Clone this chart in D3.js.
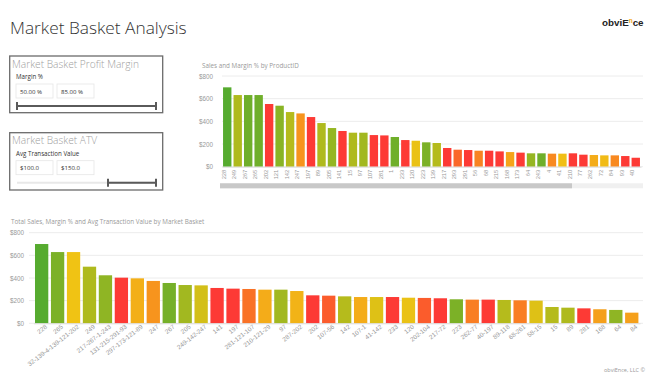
<!DOCTYPE html>
<html><head><meta charset="utf-8">
<script src="https://cdn.jsdelivr.net/npm/d3@7"></script>
<style>
html,body{margin:0;padding:0;background:#fff;}
svg{display:block;font-family:'Segoe UI','Open Sans','Noto Sans',sans-serif;}
</style></head>
<body><svg id="c" width="656" height="378"></svg>
<script>
// ---- data ----
const productIDs = ["228","249","267","265","202","121","142","247","197","89","205","141","15","97","107","281","1","233","120","223","139","217","293","291","56","68","215","168","173","64","243","4","41","210","77","262","72","84","93","40"];
const productSales = [700,632,632,632,553,538,482,470,438,385,341,315,300,300,279,276,262,235,229,215,209,165,150,147,141,141,135,129,124,118,118,115,115,118,106,103,100,100,94,79];
const productMargin = [82,68,78,78,48,74,67,56,48,68,72,48,68,70,48,48,78,48,62.5,76,67,48,52,48,54.5,48,48,58,48,72,78,55,61.5,48,48,59,61,55,48,48];

const basketLabels = ["228","265","32-139-4-139-121-202","249","217-267-1-243","131-215-291-93","297-173-121-89","247","267","205","249-142-247","141","197","281-121-107","210-121-29","97","287-202","202","107-56","142","107-1","41-142","233","120","202-104","217-72","223","262-77","40-197","89-118","68-261","58-15","15","89","281","168","64","84"];
const basketSales = [700,629,629,500,424,403,397,374,356,338,335,312,306,303,297,297,285,247,244,238,232,232,232,226,224,221,212,209,209,206,203,200,144,138,132,124,118,94];
const basketMargin = [82,76,62,68,73,48,59.5,56,77,70,64.5,48,48,53,59,70,60,48,51,67,59,63.5,48,62.5,51,48,76,54,48,67,54,63.5,67,68,48,57.5,73,57.5];

const salesTicks = [0,200,400,600,800];
const marginFilter = ["50.00 %","85.00 %"];
const atvFilter = ["$100.0","$150.0"];

// ---- drawing ----
const svg = d3.select("#c");
const color = d3.scaleLinear()
  .domain([48,56,62,67,82])
  .range(["#fd3a35","#f7941d","#f0c314","#b5bb1c","#56ab2f"])
  .interpolate(d3.interpolateRgb).clamp(true);
const fmt = d => "$" + d;

// Title
svg.append("text").attr("x",10).attr("y",33.5).attr("font-size",17.3).attr("font-weight",300)
  .attr("fill","#333").text("Market Basket Analysis");

// Logo
const logo = svg.append("text").attr("x",602).attr("y",26).attr("font-size",9.8).attr("font-weight",700)
  .attr("fill","#222").attr("font-family","Arial, 'Liberation Sans', sans-serif");
logo.append("tspan").text("obviE");
logo.append("tspan").attr("fill","#f3a81c").attr("font-size",6.5).attr("dy",-3.5).text("n");
logo.append("tspan").attr("dy",3.5).text("ce");

// Footer
svg.append("text").attr("x",645).attr("y",372).attr("text-anchor","end").attr("font-size",5.5)
  .attr("fill","#999").text("obviEnce, LLC ©");

// Slicer panels
function panel(y0, h, title, sub, vals, selStart){
  const g = svg.append("g");
  g.append("rect").attr("x",9.7).attr("y",y0).attr("width",153).attr("height",h)
    .attr("fill","#fff").attr("stroke","#6b6b6b").attr("stroke-width",1.3);
  g.append("text").attr("x",12).attr("y",y0+11.5).attr("font-size",10.2).attr("font-weight",300)
    .attr("fill","#a0a0a0").text(title);
  g.append("text").attr("x",16).attr("y",y0+23).attr("font-size",6.2).attr("fill","#333").text(sub);
  vals.forEach((v,i)=>{
    const bx = 16 + i*41;
    g.append("rect").attr("x",bx).attr("y",y0+28).attr("width",37).attr("height",14)
      .attr("fill","#fff").attr("stroke","#e6e6e6").attr("stroke-width",0.8);
    g.append("text").attr("x",bx+4).attr("y",y0+37.5).attr("font-size",6.1).attr("fill","#333").text(v);
  });
  const ty = y0+50;
  g.append("line").attr("x1",17).attr("x2",156).attr("y1",ty).attr("y2",ty)
    .attr("stroke","#e8e8e8").attr("stroke-width",2);
  g.append("line").attr("x1",selStart).attr("x2",156).attr("y1",ty).attr("y2",ty)
    .attr("stroke","#5a5a5a").attr("stroke-width",2);
  [selStart,156].forEach(x=>{
    g.append("line").attr("x1",x).attr("x2",x).attr("y1",ty-4).attr("y2",ty+4)
      .attr("stroke","#5a5a5a").attr("stroke-width",2);
  });
}
panel(56, 56.7, "Market Basket Profit Margin", "Margin %", marginFilter, 17);
panel(132.7, 57.3, "Market Basket ATV", "Avg Transaction Value", atvFilter, 108);

// ---- Top chart ----
{
  const x0 = 222, x1 = 641, yTop = 76, yBase = 166.7;
  svg.append("text").attr("x",202).attr("y",68).attr("font-size",6.3).attr("fill","#9a9a9a")
    .text("Sales and Margin % by ProductID");
  const x = d3.scaleBand().domain(productIDs).range([x0,x1]).paddingInner(0.2).paddingOuter(0.1);
  const y = d3.scaleLinear().domain([0,800]).range([yBase,yTop]);
  const g = svg.append("g");
  g.selectAll("line.grid").data(salesTicks).join("line")
    .attr("x1",x0).attr("x2",x1+2).attr("y1",d=>y(d)).attr("y2",d=>y(d))
    .attr("stroke","#ececec").attr("stroke-width",1);
  const ya = g.append("g").attr("transform",`translate(${x0-6},0)`)
    .call(d3.axisLeft(y).tickValues(salesTicks).tickFormat(fmt).tickSize(0));
  ya.select(".domain").remove();
  ya.selectAll("text").attr("font-size",6.3).attr("fill","#999").attr("font-family",null);
  g.selectAll("rect.bar").data(productIDs).join("rect")
    .attr("x",d=>x(d)).attr("width",x.bandwidth())
    .attr("y",(d,i)=>y(productSales[i])).attr("height",(d,i)=>yBase-y(productSales[i]))
    .attr("fill",(d,i)=>color(productMargin[i]));
  const xa = g.append("g").attr("transform",`translate(0,${yBase})`)
    .call(d3.axisBottom(x).tickSize(0));
  xa.select(".domain").attr("stroke","#ddd");
  xa.selectAll("text").attr("font-size",5.8).attr("fill","#999").attr("font-family",null)
    .attr("transform","rotate(-90)").attr("text-anchor","end").attr("dx","-3").attr("dy","-0.33em")
    .attr("x",0).attr("y",0.5);
  // scrollbar
  g.append("rect").attr("x",220).attr("y",183.3).attr("width",423).attr("height",5).attr("fill","#f0f0f0");
  g.append("rect").attr("x",220).attr("y",183.3).attr("width",352).attr("height",5).attr("fill","#c8c8c8");
}

// ---- Bottom chart ----
{
  const x0 = 33.4, x1 = 640, yTop = 232.7, yBase = 323.3;
  svg.append("text").attr("x",11).attr("y",223.5).attr("font-size",6.3).attr("fill","#9a9a9a")
    .text("Total Sales, Margin % and Avg Transaction Value by Market Basket");
  const x = d3.scaleBand().domain(basketLabels.map((d,i)=>i)).range([x0,x1]).paddingInner(0.166).paddingOuter(0.1);
  const y = d3.scaleLinear().domain([0,800]).range([yBase,yTop]);
  const g = svg.append("g");
  g.selectAll("line.grid").data(salesTicks).join("line")
    .attr("x1",29).attr("x2",643).attr("y1",d=>y(d)).attr("y2",d=>y(d))
    .attr("stroke","#ececec").attr("stroke-width",1);
  const ya = g.append("g").attr("transform",`translate(27,0)`)
    .call(d3.axisLeft(y).tickValues(salesTicks).tickFormat(fmt).tickSize(0));
  ya.select(".domain").remove();
  ya.selectAll("text").attr("font-size",6.3).attr("fill","#999").attr("font-family",null);
  g.selectAll("rect.bar").data(basketLabels).join("rect")
    .attr("x",(d,i)=>x(i)).attr("width",x.bandwidth())
    .attr("y",(d,i)=>y(basketSales[i])).attr("height",(d,i)=>yBase-y(basketSales[i]))
    .attr("fill",(d,i)=>color(basketMargin[i]));
  const xa = g.append("g").attr("transform",`translate(0,${yBase})`)
    .call(d3.axisBottom(x).tickSize(0).tickFormat(i=>basketLabels[i]));
  xa.select(".domain").attr("stroke","#ddd");
  xa.selectAll("text").attr("font-size",6.3).attr("fill","#999").attr("font-family",null)
    .attr("text-anchor","end").attr("x",2).attr("y",4).attr("dy","0.5em")
    .attr("transform","rotate(-38)");
}
</script></body></html>
